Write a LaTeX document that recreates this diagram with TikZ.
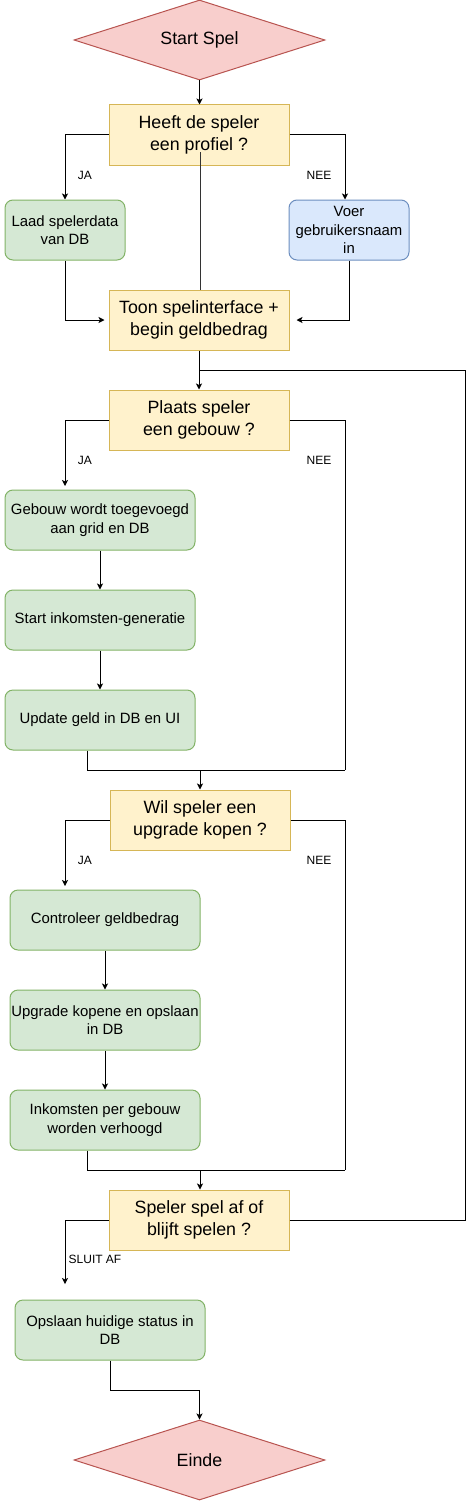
\documentclass[tikz,border=0pt]{standalone}
\usepackage{fontspec}
\setmainfont{Liberation Sans}
\usetikzlibrary{shapes.geometric,arrows.meta}
\definecolor{geelvul}{HTML}{FFF2CC}
\definecolor{geelrand}{HTML}{D6B656}
\definecolor{groenvul}{HTML}{D5E8D4}
\definecolor{groenrand}{HTML}{82B366}
\definecolor{blauwvul}{HTML}{DAE8FC}
\definecolor{blauwrand}{HTML}{6C8EBF}
\definecolor{roodvul}{HTML}{F8CECC}
\definecolor{roodrand}{HTML}{B85450}
\begin{document}
\begin{tikzpicture}[x=1pt,y=-1pt,line width=1pt,
    vraag/.style={draw=geelrand,fill=geelvul,minimum width=180pt,minimum height=60pt,
      inner sep=0pt,align=center,font=\fontsize{17.8}{21.7}\selectfont},
    stap/.style={draw=groenrand,fill=groenvul,rounded corners=8pt,minimum width=190pt,
      minimum height=60pt,inner sep=0pt,align=center,font=\fontsize{14.9}{18.3}\selectfont},
    invoer/.style={stap,draw=blauwrand,fill=blauwvul,minimum width=120pt},
    eind/.style={diamond,draw=roodrand,fill=roodvul,minimum width=251pt,minimum height=80pt,
      shape aspect=3.14,inner sep=0pt,font=\fontsize{17.8}{21.7}\selectfont},
    pijl/.style={-{Stealth[length=6pt,width=6pt,inset=1.5pt]}},
    keuze/.style={font=\fontsize{12}{14}\selectfont}]
      \useasboundingbox (0,0) rectangle (474,1501);
      \def\links{65};
      \def\rechts{345};
      \def\lus{465};
      \node[eind] (start) at (199.5,40) {Start Spel};
      \node[vraag] (heeft) at (199,135) {Heeft de speler\\een profiel ?};
      \node[stap,minimum width=120pt] (laad) at (65,230) {Laad spelerdata\\van DB};
      \node[invoer] (voer) at (349,230) {Voer\\gebruikersnaam\\in};
      \node[vraag] (toon) at (199,320) {Toon spelinterface +\\begin geldbedrag};
      \node[vraag] (plaats) at (199,420) {Plaats speler\\een gebouw ?};
      \node[stap] (gebouw) at (100,520) {Gebouw wordt toegevoegd\\aan grid en DB};
      \node[stap] (genereer) at (100,620) {Start inkomsten-generatie};
      \node[stap] (update) at (100,720) {Update geld in DB en UI};
      \node[vraag] (wil) at (200,820) {Wil speler een\\upgrade kopen ?};
      \node[stap] (controle) at (105,920) {Controleer geldbedrag};
      \node[stap] (koop) at (105,1020) {Upgrade kopene en opslaan\\in DB};
      \node[stap] (verhoog) at (105,1120) {Inkomsten per gebouw\\worden verhoogd};
      \node[vraag] (speler) at (199,1220) {Speler spel af of\\blijft spelen ?};
      \node[stap] (opslaan) at (110,1330) {Opslaan huidige status in\\DB};
      \node[eind] (einde) at (199.5,1460) {Einde};
      \coordinate (ja2) at (\links,486);
      \coordinate (nee2) at (\rechts,770);
      \coordinate (ja3) at (\links,886);
      \coordinate (nee3) at (\rechts,1170);
      \coordinate (sluit) at (\links,1284);
      \coordinate (terug) at (\lus,370);
      \draw[pijl] (start.south) -- (start.south |- heeft.north);
      \draw[pijl] (heeft.west) -| (laad.north);
      \draw[pijl] (heeft.east) -| ([xshift=-4pt]voer.north);
      \draw[black!80,line width=0.8pt] ([xshift=1.5pt,yshift=-17pt]heeft.center) -- ([xshift=1.5pt]toon.north);
      \draw[pijl,shorten >=4pt] (laad.south) |- (toon.west);
      \draw[pijl,shorten >=7pt] (voer.south) |- (toon.east);
      \draw[pijl] (toon) -- (plaats);
      \draw (speler.east) -| (terug) -- (terug -| toon.south);
      \draw[pijl] (plaats.west) -| (ja2);
      \draw (plaats.east) -| (nee2);
      \draw[pijl] (gebouw) -- (genereer);
      \draw[pijl] (genereer) -- (update);
      \draw ([xshift=-13pt]update.south) |- (nee2);
      \draw[pijl] (nee2 -| wil.north) -- (wil.north);
      \draw[pijl] (wil.west) -| (ja3);
      \draw (wil.east) -| (nee3);
      \draw[pijl] (controle) -- (koop);
      \draw[pijl] (koop) -- (verhoog);
      \draw ([xshift=-18pt]verhoog.south) |- (nee3);
      \draw[pijl] (nee3 -| wil.north) -- (speler.north -| wil.north);
      \draw[pijl] (speler.west) -| (sluit);
      \draw[pijl] (opslaan.south) -- ++(0,30) -| (einde.north);
      \node[keuze] (ja1t) at (85,175) {JA};
      \node[keuze] (nee1t) at (319,175) {NEE};
      \node[keuze] (ja2t) at (85,460) {JA};
      \node[keuze] (nee2t) at (319,460) {NEE};
      \node[keuze] (ja3t) at (85,860) {JA};
      \node[keuze] (nee3t) at (319,860) {NEE};
      \node[keuze] (sluitt) at (95,1259) {SLUIT AF};
    \end{tikzpicture}
\end{document}
